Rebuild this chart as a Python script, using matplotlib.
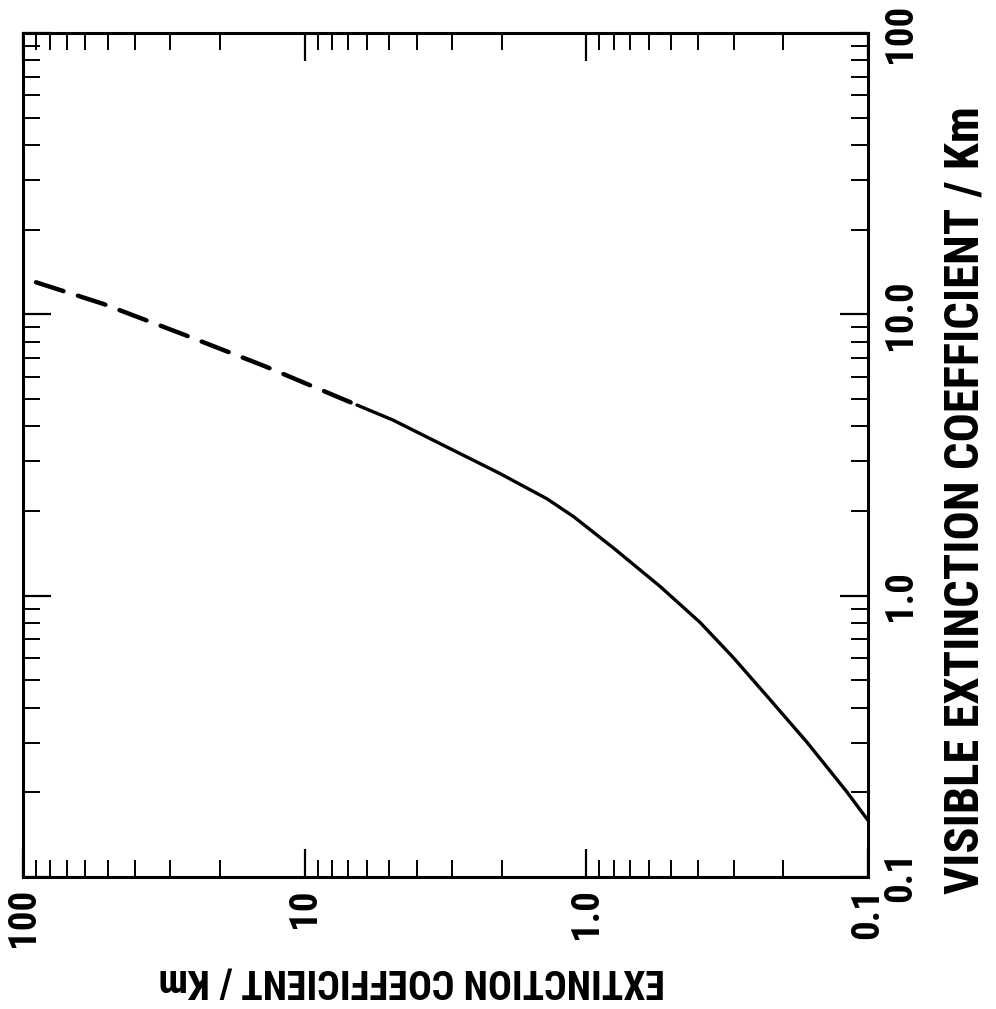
import matplotlib
matplotlib.use("Agg")
import matplotlib.pyplot as plt
from matplotlib.ticker import FixedLocator, FixedFormatter, LogLocator, NullFormatter

# bottom axis (extinction coefficient, runs 100 -> 0.1) and right axis (visible extinction)
dash_ext = [89.9, 52.0, 26.6, 13.9, 6.52]
dash_vis = [13.0, 10.9, 8.44, 6.55, 4.76]
solid_ext = [6.52, 4.86, 2.97, 2.03, 1.38, 1.11, 0.803, 0.548, 0.395, 0.301, 0.229, 0.165, 0.119, 0.1]
solid_vis = [4.76, 4.21, 3.29, 2.72, 2.21, 1.91, 1.48, 1.08, 0.804, 0.603, 0.441, 0.302, 0.201, 0.159]

major = [0.1, 1.0, 10.0, 100.0]
bottom_labels = ['0.1', '1.0', '10', '100']
right_labels = ['0.1', '1.0', '10.0', '100']

fam = ['Roboto Condensed', 'Archivo Narrow', 'DejaVu Sans']

fig = plt.figure(figsize=(9.96, 10.09), dpi=100)
ax = fig.add_axes([0.0231, 0.1308, 0.8484, 0.8365])

ax.plot(dash_ext, dash_vis, color='black', lw=3.2, dashes=(6.5, 3.4), dash_capstyle='round')
ax.plot(solid_ext, solid_vis, color='black', lw=2.4, solid_capstyle='round', solid_joinstyle='round')

ax.set_xscale('log')
ax.set_yscale('log')
ax.set_xlim(100, 0.1)
ax.set_ylim(0.1, 100)

for s in ax.spines.values():
    s.set_linewidth(2.2)

ax.xaxis.set_major_locator(FixedLocator(major))
ax.xaxis.set_major_formatter(FixedFormatter(bottom_labels))
ax.yaxis.set_major_locator(FixedLocator(major))
ax.yaxis.set_major_formatter(FixedFormatter(right_labels))
ax.xaxis.set_minor_locator(LogLocator(base=10, subs=range(2, 10)))
ax.yaxis.set_minor_locator(LogLocator(base=10, subs=range(2, 10)))
ax.xaxis.set_minor_formatter(NullFormatter())
ax.yaxis.set_minor_formatter(NullFormatter())

ax.tick_params(which='both', direction='in', top=True, bottom=True, left=True, right=True,
               labelleft=False, labelright=True, color='black')
ax.tick_params(which='major', length=20, width=1.6)
ax.tick_params(which='minor', length=12, width=1.4)
ax.tick_params(axis='x', which='major', pad=8)
ax.tick_params(axis='y', which='major', pad=10)

for t in ax.get_xticklabels():
    t.set_rotation(90)
    t.set_fontfamily(fam)
    t.set_fontweight('bold')
    t.set_fontsize(28)
for t in ax.get_yticklabels():
    t.set_rotation(90)
    t.set_va('center')
    t.set_fontfamily(fam)
    t.set_fontweight('bold')
    t.set_fontsize(28)

fig.text(0.9689, 0.5045, 'VISIBLE EXTINCTION COEFFICIENT / Km', rotation=90,
         ha='center', va='center', fontsize=35, fontweight='bold', family=fam)
fig.text(0.4137, 0.0282, 'EXTINCTION COEFFICIENT / Km', rotation=180,
         ha='center', va='center', fontsize=28.5, fontweight='bold', family=fam)

fig.savefig('out.png', dpi=100)
